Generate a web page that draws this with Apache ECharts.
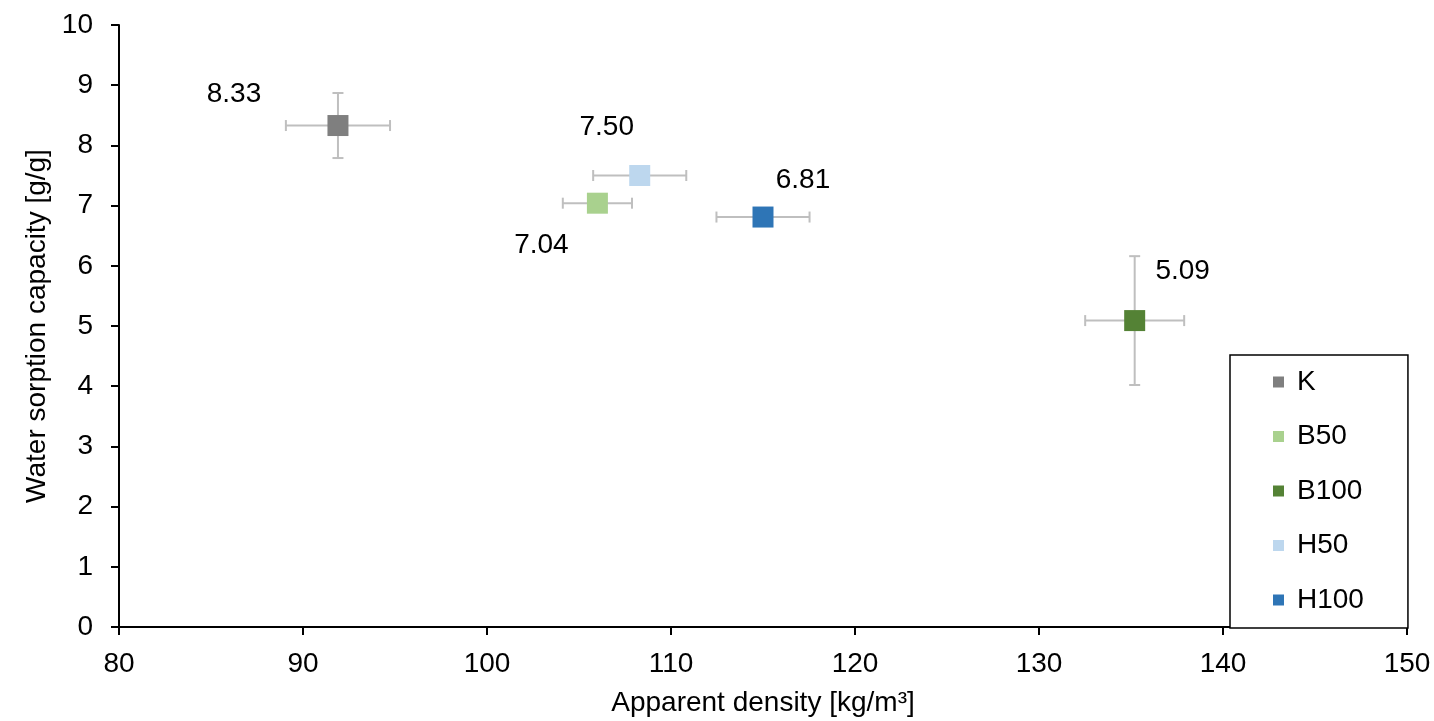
<!DOCTYPE html>
<html>
<head>
<meta charset="utf-8">
<script src="https://cdn.jsdelivr.net/npm/echarts@6/dist/echarts.min.js"></script>
<style>
    html, body { margin: 0; padding: 0; background: #fff; }
    #chart { width: 1434px; height: 721px; }
</style>
</head>
<body>
<div id="chart"></div>
<script>
// sample data
const names = ['K', 'B50', 'B100', 'H50', 'H100'];
const density = [91.9, 106.0, 135.2, 108.3, 115.0];
const densityErr = [2.83, 1.88, 2.69, 2.53, 2.53];
const sorption = [8.33, 7.04, 5.09, 7.5, 6.81];
const sorptionErr = [0.54, 0.1, 1.07, 0.1, 0.1];

const colors = ['#7f7f7f', '#a9d18e', '#548235', '#bdd7ee', '#2e75b6'];
// label offsets (px) from the marker centre
const labelOffsets = [[-104, -31], [-56, 42], [48, -49], [-33, -48], [40, -37]];

const font = 'Liberation Sans, Arial, sans-serif';
const eChart = echarts.init(document.getElementById('chart'));

// error bars
const errData = names.map((n, i) => [density[i], sorption[i], densityErr[i], sorptionErr[i]]);
const errSeries = {
    type: 'custom',
    silent: true,
    z: 1,
    data: errData,
    renderItem: function(params, api) {
        const x = api.value(0);
        const y = api.value(1);
        const ex = api.value(2);
        const ey = api.value(3);
        const l = api.coord([x - ex, y]);
        const r = api.coord([x + ex, y]);
        const t = api.coord([x, y + ey]);
        const b = api.coord([x, y - ey]);
        const cap = 5.5;
        const style = { stroke: '#bfbfbf', lineWidth: 2 };
        const line = (x1, y1, x2, y2) => ({ type: 'line', shape: { x1, y1, x2, y2 }, style });
        return {
            type: 'group',
            children: [
                line(l[0], l[1], r[0], r[1]),
                line(l[0], l[1] - cap, l[0], l[1] + cap),
                line(r[0], r[1] - cap, r[0], r[1] + cap),
                line(t[0], t[1], b[0], b[1]),
                line(t[0] - cap, t[1], t[0] + cap, t[1]),
                line(b[0] - cap, b[1], b[0] + cap, b[1])
            ]
        };
    }
};

const pointSeries = names.map((n, i) => ({
    name: n,
    type: 'scatter',
    z: 3,
    symbol: 'rect',
    symbolSize: 21,
    itemStyle: { color: colors[i], opacity: 1 },
    label: {
        show: true,
        position: 'inside',
        offset: labelOffsets[i],
        color: '#000',
        fontSize: 28,
        fontFamily: font,
        formatter: p => p.value[1].toFixed(2)
    },
    data: [[density[i], sorption[i]]]
}));

const option = {
    animation: false,
    textStyle: { fontFamily: font },
    grid: {
        left: 119,
        right: 27,
        top: 25,
        bottom: 94,
        containLabel: false,
        outerBoundsMode: 'none'
    },
    legend: {
        orient: 'vertical',
        left: 1230,
        top: 355,
        icon: 'rect',
        itemWidth: 11,
        itemHeight: 11,
        itemGap: 26.5,
        padding: [13, 44, 14, 43],
        borderColor: '#000',
        borderWidth: 1.5,
        backgroundColor: '#fff',
        data: names,
        textStyle: { fontSize: 28, color: '#000', fontFamily: font, padding: [0, 0, 0, 8] }
    },
    xAxis: {
        type: 'value',
        min: 80,
        max: 150,
        interval: 10,
        name: 'Apparent density [kg/m³]',
        nameLocation: 'middle',
        nameGap: 62,
        nameTextStyle: { fontSize: 28, color: '#000' },
        axisLine: { onZero: false, lineStyle: { color: '#000', width: 2 } },
        axisTick: { show: true, length: 8, lineStyle: { color: '#000', width: 2 } },
        axisLabel: { fontSize: 28, color: '#000', margin: 23 },
        splitLine: { show: false }
    },
    yAxis: {
        type: 'value',
        min: 0,
        max: 10,
        interval: 1,
        name: 'Water sorption capacity [g/g]',
        nameLocation: 'middle',
        nameGap: 62,
        nameTextStyle: { fontSize: 28, color: '#000' },
        axisLine: { show: true, onZero: false, lineStyle: { color: '#000', width: 2 } },
        axisTick: { show: true, length: 8, lineStyle: { color: '#000', width: 2 } },
        axisLabel: { fontSize: 28, color: '#000', margin: 26 },
        splitLine: { show: false }
    },
    series: [errSeries].concat(pointSeries)
};
eChart.setOption(option);
</script>
</body>
</html>
